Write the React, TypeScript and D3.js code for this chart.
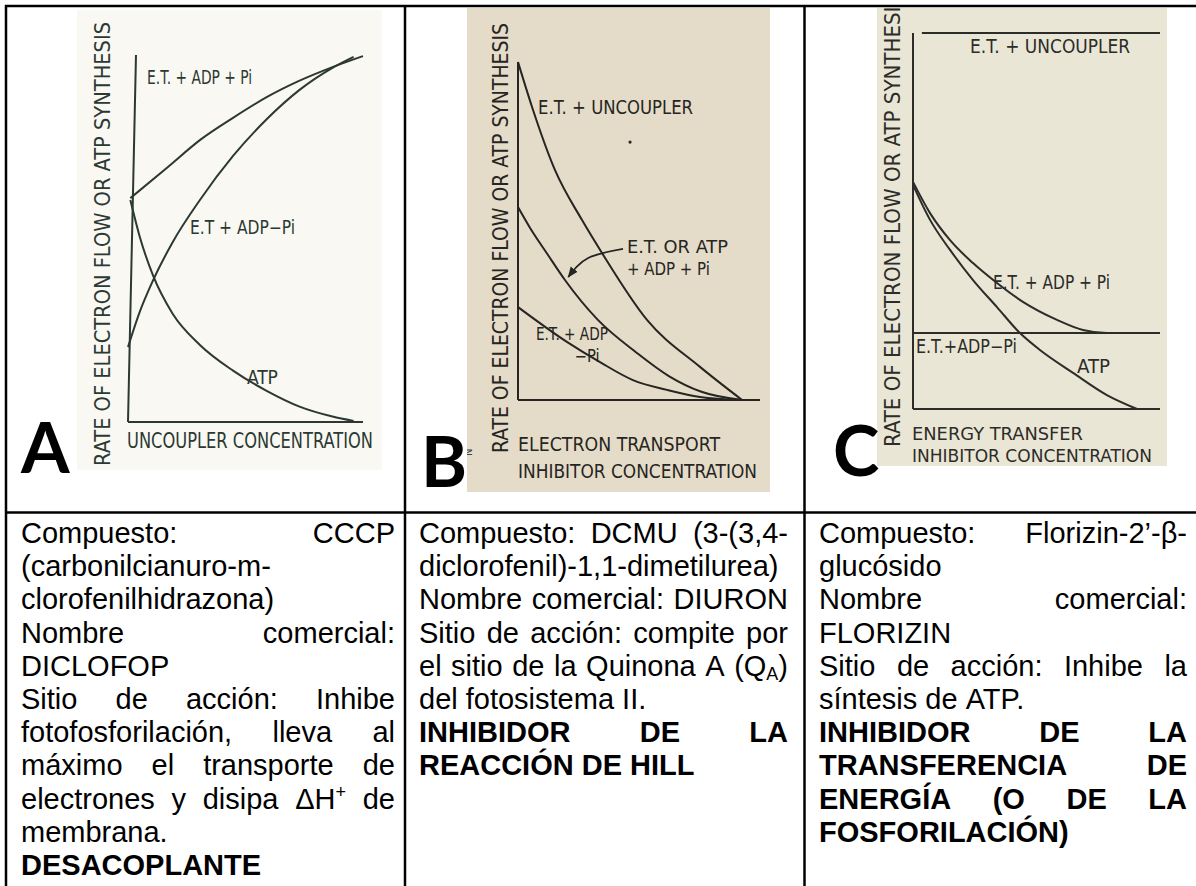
import React, { useMemo } from "react";
import * as d3 from "d3";

const W = 1196;
const H = 886;

// ---------- Panel A : uncoupler (x: concentration 0-100, y: rate 0-100) ----------
const aUpperX = [1, 17, 31, 45, 59, 73, 87, 100];
const aUpperY = [61, 69.5, 77, 83, 88.5, 93, 96.7, 99.7];
const aRisingX = [0, 5, 10.6, 19, 30.6, 44.7, 59, 73, 87, 96];
const aRisingY = [20.4, 30, 38.5, 49, 60.5, 72.5, 82.5, 90.5, 96.5, 99.5];
const aAtpX = [1, 5, 10.6, 19, 30.6, 44.7, 59, 73, 87, 96];
const aAtpY = [60.5, 50.5, 40, 29.5, 21, 14, 8.5, 4.2, 1.5, 0.3];
const aAxisTopX = 3.4;

// ---------- Panel B : electron transport inhibitor ----------
const bUncX = [0, 5.8, 15.3, 26.4, 34.7, 53.3, 75.2, 92.6];
const bUncY = [100, 86.7, 68, 53.3, 43.5, 23.7, 9.8, 0];
const bMidX = [0, 5, 12.4, 19.4, 33, 49, 62.5, 75.5, 92.6];
const bMidY = [57.1, 50.9, 42.9, 35.5, 23.7, 14, 7, 2.5, 0];
const bLowX = [0, 20.2, 33.9, 47.5, 61.6, 75.2, 92.6];
const bLowY = [27.5, 17.2, 11.2, 5.9, 3.0, 0.9, 0];
const bArrowX = [43.4, 29, 20.8];
const bArrowY = [44.7, 42, 36.4];
const bSpeckX = [46.3];
const bSpeckY = [76.3];

// ---------- Panel C : energy transfer inhibitor ----------
const cUncX = [3.6, 100];
const cUncY = [100, 100];
const cMinusPiX = [0, 100];
const cMinusPiY = [20.2, 20.2];
const cPlusPiX = [0, 6.9, 15, 24.3, 34, 44.5, 58.3, 68.8, 78.5, 100];
const cPlusPiY = [60.4, 52.1, 44.9, 38.8, 33.5, 28.5, 23.7, 21.0, 20.2, 20.2];
const cAtpX = [0, 6.9, 15, 24.3, 34, 43.3, 51.4, 64.8, 78.5, 90.7];
const cAtpY = [59.6, 50.3, 42.3, 34.3, 27.1, 20.2, 15.7, 9.6, 3.7, 0];

// ---------- texts ----------
const yAxisTitle = "RATE OF ELECTRON FLOW OR ATP SYNTHESIS";
const aXTitle = ["UNCOUPLER CONCENTRATION"];
const bXTitle = ["ELECTRON TRANSPORT", "INHIBITOR CONCENTRATION"];
const cXTitle = ["ENERGY TRANSFER", "INHIBITOR CONCENTRATION"];
const aCurveLabels = ["E.T. + ADP + Pi", "E.T + ADP\u2212Pi", "ATP"];
const bCurveLabels = ["E.T. + UNCOUPLER", "E.T. OR ATP", "+ ADP + Pi", "E.T. + ADP", "\u2212Pi"];
const cCurveLabels = ["E.T. + UNCOUPLER", "E.T. + ADP + Pi", "E.T.+ADP\u2212Pi", "ATP"];
const panelLetters = ["A", "B", "C"];

// body text lines: [text, bold, justify]
const col1Lines: [string, boolean, boolean][] = [
  ["Compuesto: CCCP", false, true],
  ["(carbonilcianuro-m-", false, false],
  ["clorofenilhidrazona)", false, false],
  ["Nombre comercial:", false, true],
  ["DICLOFOP", false, false],
  ["Sitio de acción: Inhibe", false, true],
  ["fotofosforilación, lleva al", false, true],
  ["máximo el transporte de", false, true],
  ["electrones y disipa ΔH^{+} de", false, true],
  ["membrana.", false, false],
  ["DESACOPLANTE", true, false],
];
const col2Lines: [string, boolean, boolean][] = [
  ["Compuesto: DCMU (3-(3,4-", false, true],
  ["diclorofenil)-1,1-dimetilurea)", false, false],
  ["Nombre comercial: DIURON", false, true],
  ["Sitio de acción: compite por", false, true],
  ["el sitio de la Quinona A (Q_{A})", false, true],
  ["del fotosistema II.", false, false],
  ["INHIBIDOR DE LA", true, true],
  ["REACCIÓN DE HILL", true, false],
];
const col3Lines: [string, boolean, boolean][] = [
  ["Compuesto: Florizin-2\u2019-\u03b2-", false, true],
  ["glucósido", false, false],
  ["Nombre comercial:", false, true],
  ["FLORIZIN", false, false],
  ["Sitio de acción: Inhibe la", false, true],
  ["síntesis de ATP.", false, false],
  ["INHIBIDOR DE LA", true, true],
  ["TRANSFERENCIA DE", true, true],
  ["ENERGÍA (O DE LA", true, true],
  ["FOSFORILACIÓN)", true, false],
];

// ---------- layout / style ----------
const BODY_FONT = "'Liberation Sans', Arial, Helvetica, sans-serif";
const SCAN_FONT = "'Liberation Sans Narrow', 'DejaVu Sans Condensed', 'Liberation Sans', sans-serif";
const LETTER_FONT = "Lato, 'Open Sans', 'Liberation Sans', sans-serif";
const FS = 29;
const LINE_H = 33.2;
const FIRST_BASE = 543;

type Run = { t: string; s?: "sub" | "sup" };

function parseWord(w: string): Run[] {
  const out: Run[] = [];
  const re = /(\^\{[^}]*\}|_\{[^}]*\})/g;
  let last = 0;
  let m: RegExpExecArray | null;
  while ((m = re.exec(w))) {
    if (m.index > last) out.push({ t: w.slice(last, m.index) });
    const tok = m[0];
    out.push({ t: tok.slice(2, -1), s: tok[0] === "^" ? "sup" : "sub" });
    last = m.index + tok.length;
  }
  if (last < w.length) out.push({ t: w.slice(last) });
  return out;
}

let _ctx: CanvasRenderingContext2D | null = null;
function measureRun(r: Run, bold: boolean) {
  if (!_ctx) _ctx = document.createElement("canvas").getContext("2d");
  const size = r.s ? FS * 0.62 : FS;
  if (!_ctx) return r.t.length * size * 0.55;
  _ctx.font = `${bold ? "bold " : ""}${size}px ${BODY_FONT}`;
  return _ctx.measureText(r.t).width;
}

type Placed = { t: string; x: number; y: number; size: number; bold: boolean };

function layoutColumn(lines: [string, boolean, boolean][], left: number, right: number): Placed[] {
  const placed: Placed[] = [];
  lines.forEach(([txt, bold, justify], i) => {
    const base = FIRST_BASE + i * LINE_H;
    const words = txt.split(" ").map(parseWord);
    const widths = words.map((runs) => runs.reduce((s, r) => s + measureRun(r, bold), 0));
    const total = widths.reduce((a, b) => a + b, 0);
    const space = measureRun({ t: " " }, bold);
    const gap = justify && words.length > 1 ? (right - left - total) / (words.length - 1) : space;
    let x = left;
    words.forEach((runs, wi) => {
      let rx = x;
      runs.forEach((r) => {
        const size = r.s ? FS * 0.62 : FS;
        const y = r.s === "sup" ? base - 11 : r.s === "sub" ? base + 4 : base;
        placed.push({ t: r.t, x: rx, y, size, bold });
        rx += measureRun(r, bold);
      });
      x += widths[wi] + gap;
    });
  });
  return placed;
}

type Series = { xs: number[]; ys: number[] };
type Label = { text: string; x: number; y: number; w: number; size?: number };
type PanelDef = {
  bg: { x: number; y: number; w: number; h: number; fill: string };
  xr: [number, number];
  yr: [number, number];
  axisTopX: number;
  ink: string;
  series: Series[];
  labels: Label[];
  xTitle: { lines: string[]; x0: number; x1: number[]; base: number[]; size: number };
  yTitle: { cx: number; y0: number; y1: number };
  letter: { t: string; x: number; base: number };
};

const panels: PanelDef[] = [
  {
    bg: { x: 77, y: 10, w: 305, h: 460, fill: "#f9f8f2" },
    xr: [128, 363],
    yr: [422, 55],
    axisTopX: aAxisTopX,
    ink: "#2c3833",
    series: [
      { xs: aUpperX, ys: aUpperY },
      { xs: aRisingX, ys: aRisingY },
      { xs: aAtpX, ys: aAtpY },
    ],
    labels: [
      { text: aCurveLabels[0], x: 8.1, y: 92.1, w: 105 },
      { text: aCurveLabels[1], x: 26.4, y: 51.2, w: 105 },
      { text: aCurveLabels[2], x: 50.6, y: 10.4, w: 31 },
    ],
    xTitle: { lines: aXTitle, x0: 127, x1: [373], base: [448], size: 21 },
    yTitle: { cx: 102, y0: 466, y1: 22 },
    letter: { t: panelLetters[0], x: 21, base: 473 },
  },
  {
    bg: { x: 467, y: 8, w: 303, h: 484, fill: "#e4dcc8" },
    xr: [518, 760],
    yr: [400, 62],
    axisTopX: 0,
    ink: "#262522",
    series: [
      { xs: bUncX, ys: bUncY },
      { xs: bMidX, ys: bMidY },
      { xs: bLowX, ys: bLowY },
    ],
    labels: [
      { text: bCurveLabels[0], x: 8.3, y: 84.6, w: 155 },
      { text: bCurveLabels[1], x: 45, y: 43.4, w: 101, size: 17 },
      { text: bCurveLabels[2], x: 45, y: 37.1, w: 83, size: 17 },
      { text: bCurveLabels[3], x: 7.4, y: 17.8, w: 72, size: 17 },
      { text: bCurveLabels[4], x: 23.4, y: 11.3, w: 25, size: 17 },
    ],
    xTitle: { lines: bXTitle, x0: 518, x1: [720, 757], base: [451, 478], size: 20 },
    yTitle: { cx: 500, y0: 453, y1: 23 },
    letter: { t: panelLetters[1], x: 421, base: 487 },
  },
  {
    bg: { x: 877, y: 8, w: 290, h: 458, fill: "#eae6d6" },
    xr: [913, 1160],
    yr: [409, 33],
    axisTopX: 0,
    ink: "#2c2c28",
    series: [
      { xs: cUncX, ys: cUncY },
      { xs: cMinusPiX, ys: cMinusPiY },
      { xs: cPlusPiX, ys: cPlusPiY },
      { xs: cAtpX, ys: cAtpY },
    ],
    labels: [
      { text: cCurveLabels[0], x: 23.1, y: 94.7, w: 160 },
      { text: cCurveLabels[1], x: 32.4, y: 31.9, w: 117 },
      { text: cCurveLabels[2], x: 1.2, y: 14.9, w: 101 },
      { text: cCurveLabels[3], x: 66.4, y: 9.6, w: 33 },
    ],
    xTitle: { lines: cXTitle, x0: 912, x1: [1083, 1152], base: [440, 462], size: 18 },
    yTitle: { cx: 892, y0: 447, y1: -6 },
    letter: { t: panelLetters[2], x: 833, base: 476 },
  },
];

function Panel({ p, idx }: { p: PanelDef; idx: number }) {
  const x = d3.scaleLinear().domain([0, 100]).range(p.xr);
  const y = d3.scaleLinear().domain([0, 100]).range(p.yr);
  const line = d3
    .line<[number, number]>()
    .x((d) => x(d[0]))
    .y((d) => y(d[1]))
    .curve(d3.curveMonotoneX);
  const clipId = `clip-${idx}`;
  return (
    <g>
      <defs>
        <clipPath id={clipId}>
          <rect x={p.bg.x} y={p.bg.y} width={p.bg.w} height={p.bg.h} />
        </clipPath>
        <marker id={`arrow-${idx}`} viewBox="0 0 10 10" refX="9" refY="5" markerWidth="6" markerHeight="6" orient="auto">
          <path d="M0,1 L10,5 L0,9 z" fill={p.ink} />
        </marker>
      </defs>
      <rect x={p.bg.x} y={p.bg.y} width={p.bg.w} height={p.bg.h} fill={p.bg.fill} />
      <g clipPath={`url(#${clipId})`}>
        {/* axes */}
        <line x1={x(0)} x2={x(p.axisTopX)} y1={y(0)} y2={y(100)} stroke={p.ink} strokeWidth={2} />
        <line x1={x(0)} x2={x(100)} y1={y(0)} y2={y(0)} stroke={p.ink} strokeWidth={2} />
        {p.series.map((s, i) => (
          <path
            key={i}
            d={line(s.xs.map((v, k) => [v, s.ys[k]] as [number, number])) || ""}
            fill="none"
            stroke={p.ink}
            strokeWidth={2}
          />
        ))}
        {idx === 1 && (
          <>
            <path
              d={
                d3
                  .line<[number, number]>()
                  .x((d) => x(d[0]))
                  .y((d) => y(d[1]))
                  .curve(d3.curveNatural)(bArrowX.map((v, k) => [v, bArrowY[k]] as [number, number])) || ""
              }
              fill="none"
              stroke={p.ink}
              strokeWidth={1.8}
              markerEnd={`url(#arrow-${idx})`}
            />
            {bSpeckX.map((v, k) => (
              <circle key={k} cx={x(v)} cy={y(bSpeckY[k])} r={1.6} fill={p.ink} />
            ))}
            <text transform={`translate(472,456) rotate(-90)`} fontFamily={SCAN_FONT} fontSize={11} fill="#444">
              N
            </text>
          </>
        )}
        {p.labels.map((l, i) => (
          <text
            key={i}
            x={x(l.x)}
            y={y(l.y)}
            fontFamily={SCAN_FONT}
            fontSize={l.size || 19}
            fill={p.ink}
            textLength={l.w}
            lengthAdjust="spacingAndGlyphs"
          >
            {l.text}
          </text>
        ))}
        {p.xTitle.lines.map((t, i) => (
          <text
            key={i}
            x={p.xTitle.x0}
            y={p.xTitle.base[i]}
            fontFamily={SCAN_FONT}
            fontSize={p.xTitle.size}
            fill={p.ink}
            textLength={p.xTitle.x1[i] - p.xTitle.x0}
            lengthAdjust="spacingAndGlyphs"
          >
            {t}
          </text>
        ))}
        <text
          transform={`translate(${p.yTitle.cx + 8},${p.yTitle.y0}) rotate(-90)`}
          fontFamily={SCAN_FONT}
          fontSize={21}
          fill={p.ink}
          textLength={p.yTitle.y0 - p.yTitle.y1}
          lengthAdjust="spacingAndGlyphs"
        >
          {yAxisTitle}
        </text>
      </g>
      <text x={p.letter.x} y={p.letter.base} fontFamily={LETTER_FONT} fontWeight={700} fontSize={70} fill="#000">
        {p.letter.t}
      </text>
    </g>
  );
}

export default function App() {
  const texts = useMemo(
    () => [
      ...layoutColumn(col1Lines, 21, 395),
      ...layoutColumn(col2Lines, 419, 788),
      ...layoutColumn(col3Lines, 819, 1187),
    ],
    []
  );
  return (
    <svg
      width={W}
      height={H}
      viewBox={`0 0 ${W} ${H}`}
      style={{ position: "absolute", left: 0, top: 0, background: "#fff" }}
    >
      <rect x={0} y={0} width={W} height={H} fill="#fff" />
      {panels.map((p, i) => (
        <Panel key={i} p={p} idx={i} />
      ))}
      {texts.map((t, i) => (
        <text
          key={i}
          x={t.x}
          y={t.y}
          fontFamily={BODY_FONT}
          fontSize={t.size}
          fontWeight={t.bold ? 700 : 400}
          fill="#000"
          xmlSpace="preserve"
        >
          {t.t}
        </text>
      ))}
      {/* table rules */}
      <g stroke="#000" strokeWidth={2.5}>
        <line x1={5} x2={W} y1={6} y2={6} />
        <line x1={5} x2={W} y1={512.5} y2={512.5} />
        <line x1={6} x2={6} y1={5} y2={H} />
        <line x1={405} x2={405} y1={5} y2={H} />
        <line x1={804.5} x2={804.5} y1={5} y2={H} />
      </g>
    </svg>
  );
}
